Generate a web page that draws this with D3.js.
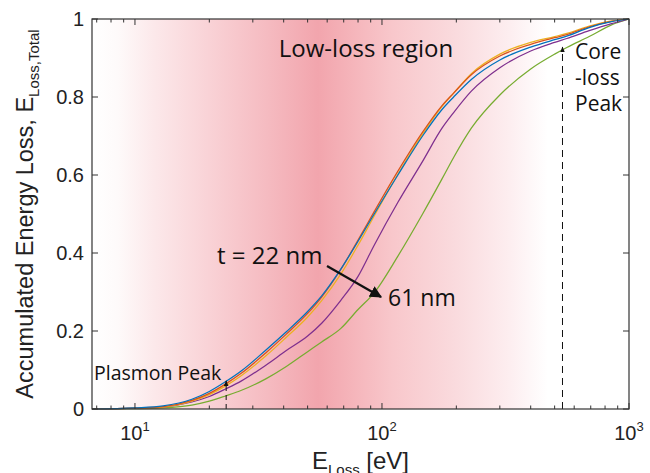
<!DOCTYPE html>
<html>
<head>
<meta charset="utf-8">
<script src="https://cdn.jsdelivr.net/npm/d3@7"></script>
<style>
  body { margin: 0; background: #fff; }
  svg { display: block; }
</style>
</head>
<body>
<div id="chart"></div>
<script>
// energy grid (eV) and accumulated loss for each thickness
const energy = [6.7, 10, 13, 17, 20, 23.4, 27, 34, 41, 50, 57, 68, 80, 93, 116, 146, 175, 195, 230, 300, 400, 500, 560, 690, 850, 1000];

const blue   = [0, 0.003, 0.008, 0.025, 0.045, 0.071, 0.098, 0.152, 0.198, 0.250, 0.290, 0.358, 0.430, 0.500, 0.600, 0.700, 0.768, 0.800, 0.845, 0.895, 0.928, 0.947, 0.956, 0.978, 0.993, 1.0];
const red    = [0, 0.002, 0.006, 0.022, 0.040, 0.065, 0.092, 0.145, 0.192, 0.245, 0.287, 0.357, 0.433, 0.506, 0.610, 0.710, 0.778, 0.810, 0.857, 0.905, 0.935, 0.952, 0.960, 0.980, 0.994, 1.0];
const yellow = [0, 0.002, 0.005, 0.020, 0.037, 0.060, 0.086, 0.137, 0.184, 0.236, 0.278, 0.345, 0.420, 0.495, 0.602, 0.705, 0.776, 0.810, 0.860, 0.910, 0.940, 0.955, 0.963, 0.982, 0.995, 1.0];
const purple = [0, 0.002, 0.005, 0.018, 0.032, 0.052, 0.072, 0.113, 0.150, 0.187, 0.220, 0.278, 0.340, 0.420, 0.530, 0.635, 0.720, 0.760, 0.815, 0.875, 0.918, 0.940, 0.950, 0.970, 0.988, 1.0];
const green  = [0, 0.001, 0.003, 0.010, 0.020, 0.034, 0.048, 0.078, 0.109, 0.147, 0.172, 0.206, 0.255, 0.298, 0.392, 0.500, 0.590, 0.645, 0.720, 0.805, 0.872, 0.910, 0.927, 0.955, 0.985, 1.0];

const seriesNames = ["22 nm", "b", "c", "d", "61 nm"];
const seriesColors = ["#0072BD", "#D95319", "#EDB120", "#7E2F8E", "#77AC30"];
const allSeries = [blue, red, yellow, purple, green];

const yTicks = [0, 0.2, 0.4, 0.6, 0.8, 1];
const yTickLabels = ["0", "0.2", "0.4", "0.6", "0.8", "1"];
const xMajor = [10, 100, 1000];
const xMajorExp = ["1", "2", "3"];
const xMinor = [7, 8, 9, 20, 30, 40, 50, 60, 70, 80, 90, 200, 300, 400, 500, 600, 700, 800, 900];

// pink shading of the low-loss region (eV, colour)
const shadeStops = [[6.7, "#ffffff"], [8.5, "#fefafa"], [12, "#fce8ea"], [20, "#f9d2d6"], [35, "#f5bac0"], [55, "#f2a5ad"], [75, "#f5b4ba"], [110, "#f8c7cb"], [200, "#fadbde"], [330, "#fdeef0"], [470, "#ffffff"], [1000, "#ffffff"]];

const plasmonE = 23.4, coreE = 538;

const width = 650, height = 473;
const margin = {left: 92, right: 21, top: 19, bottom: 64};

const svg = d3.select("#chart").append("svg").attr("width", width).attr("height", height);

const x = d3.scaleLog().domain([6.7, 1000]).range([margin.left, width - margin.right]);
const y = d3.scaleLinear().domain([0, 1]).range([height - margin.bottom, margin.top]);
const x0 = x.range()[0], x1 = x.range()[1], y0 = y.range()[0], y1 = y.range()[1];

// gradient background
const defs = svg.append("defs");
const grad = defs.append("linearGradient")
    .attr("id", "shade").attr("gradientUnits", "userSpaceOnUse")
    .attr("x1", x0).attr("x2", x1).attr("y1", 0).attr("y2", 0);
grad.selectAll("stop").data(shadeStops).enter().append("stop")
    .attr("offset", d => (x(d[0]) - x0) / (x1 - x0))
    .attr("stop-color", d => d[1]);

svg.append("rect")
    .attr("x", x0).attr("y", y1).attr("width", x1 - x0).attr("height", y0 - y1)
    .attr("fill", "url(#shade)");

// curves
const line = d3.line().x(d => x(d[0])).y(d => y(d[1])).curve(d3.curveMonotoneX);
svg.selectAll("path.curve")
    .data(allSeries.map((s, i) => ({name: seriesNames[i], color: seriesColors[i], pts: energy.map((e, j) => [e, s[j]])})).reverse())
    .enter().append("path")
    .attr("class", "curve")
    .attr("d", d => line(d.pts))
    .attr("fill", "none")
    .attr("stroke", d => d.color)
    .attr("stroke-width", 1.25);

// arrow markers
defs.append("marker").attr("id", "bigArrow")
    .attr("viewBox", "0 0 10 10").attr("refX", 9).attr("refY", 5)
    .attr("markerWidth", 5.5).attr("markerHeight", 5.5).attr("orient", "auto")
    .attr("markerUnits", "strokeWidth")
    .append("path").attr("d", "M0,0 L10,5 L0,10 z").attr("fill", "#111");
defs.append("marker").attr("id", "smallArrow")
    .attr("viewBox", "0 0 10 10").attr("refX", 9).attr("refY", 5)
    .attr("markerWidth", 6).attr("markerHeight", 6).attr("orient", "auto")
    .attr("markerUnits", "userSpaceOnUse")
    .append("path").attr("d", "M0,1 L10,5 L0,9 z").attr("fill", "#111");

// dashed peak markers
svg.append("line")
    .attr("x1", x(plasmonE)).attr("x2", x(plasmonE))
    .attr("y1", y0).attr("y2", y(0.072))
    .attr("stroke", "#111").attr("stroke-width", 1).attr("stroke-dasharray", "5,4")
    .attr("marker-end", "url(#smallArrow)");
svg.append("line")
    .attr("x1", x(coreE)).attr("x2", x(coreE))
    .attr("y1", y0).attr("y2", y(0.928))
    .attr("stroke", "#111").attr("stroke-width", 1).attr("stroke-dasharray", "7,5")
    .attr("marker-end", "url(#smallArrow)");

// thickness arrow
svg.append("line")
    .attr("x1", 327).attr("y1", 266).attr("x2", 381).attr("y2", 297)
    .attr("stroke", "#111").attr("stroke-width", 2.2)
    .attr("marker-end", "url(#bigArrow)");

const annFont = "'Open Sans', 'Noto Sans', sans-serif";
function ann(tx, ty, txt, size, anchor) {
    svg.append("text").attr("x", tx).attr("y", ty)
        .attr("text-anchor", anchor || "start")
        .style("font-family", annFont).style("font-size", size + "px")
        .style("fill", "#111").text(txt);
}
ann(366, 57, "Low-loss region", 24, "middle");
ann(217, 264, "t = 22 nm", 24);
ann(388, 306, "61 nm", 23);
ann(94, 380, "Plasmon Peak", 19.5);
ann(575, 59, "Core", 21);
ann(575, 85, "-loss", 21);
ann(575, 111, "Peak", 21);

// axes box
const axisColor = "#333";
const tickFont = "'Liberation Sans', Arial, sans-serif";
const axes = svg.append("g");
axes.append("rect")
    .attr("x", x0).attr("y", y1).attr("width", x1 - x0).attr("height", y0 - y1)
    .attr("fill", "none").attr("stroke", axisColor).attr("stroke-width", 1.2);

// y ticks (left and right, inward)
yTicks.forEach((t, i) => {
    axes.append("line").attr("x1", x0).attr("x2", x0 + 6).attr("y1", y(t)).attr("y2", y(t)).attr("stroke", axisColor);
    axes.append("line").attr("x1", x1).attr("x2", x1 - 6).attr("y1", y(t)).attr("y2", y(t)).attr("stroke", axisColor);
    axes.append("text").attr("x", x0 - 8).attr("y", y(t) + 7)
        .attr("text-anchor", "end")
        .style("font-family", tickFont).style("font-size", "20px").style("fill", "#222")
        .text(yTickLabels[i]);
});

// x ticks (bottom and top, inward)
xMajor.forEach((t, i) => {
    axes.append("line").attr("x1", x(t)).attr("x2", x(t)).attr("y1", y0).attr("y2", y0 - 6).attr("stroke", axisColor);
    axes.append("line").attr("x1", x(t)).attr("x2", x(t)).attr("y1", y1).attr("y2", y1 + 6).attr("stroke", axisColor);
    const lab = axes.append("text").attr("x", x(t)).attr("y", y0 + 31)
        .attr("text-anchor", "middle")
        .style("font-family", tickFont).style("font-size", "20px").style("fill", "#222");
    lab.append("tspan").text("10");
    lab.append("tspan").attr("dy", -9).style("font-size", "13px").text(xMajorExp[i]);
});
xMinor.forEach(t => {
    axes.append("line").attr("x1", x(t)).attr("x2", x(t)).attr("y1", y0).attr("y2", y0 - 3.5).attr("stroke", axisColor);
    axes.append("line").attr("x1", x(t)).attr("x2", x(t)).attr("y1", y1).attr("y2", y1 + 3.5).attr("stroke", axisColor);
});

// axis titles
const xt = svg.append("text").attr("x", (x0 + x1) / 2).attr("y", 469)
    .attr("text-anchor", "middle")
    .style("font-family", tickFont).style("font-size", "24px").style("fill", "#222");
xt.append("tspan").text("E");
xt.append("tspan").attr("dy", 6).style("font-size", "15px").text("Loss");
xt.append("tspan").attr("dy", -6).text(" [eV]");

const yt = svg.append("text")
    .attr("transform", `translate(33, ${(y0 + y1) / 2}) rotate(-90)`)
    .attr("text-anchor", "middle")
    .style("font-family", tickFont).style("font-size", "23.5px").style("fill", "#222");
yt.append("tspan").text("Accumulated Energy Loss, E");
yt.append("tspan").attr("dy", 6).style("font-size", "15px").text("Loss,Total");
</script>
</body>
</html>
